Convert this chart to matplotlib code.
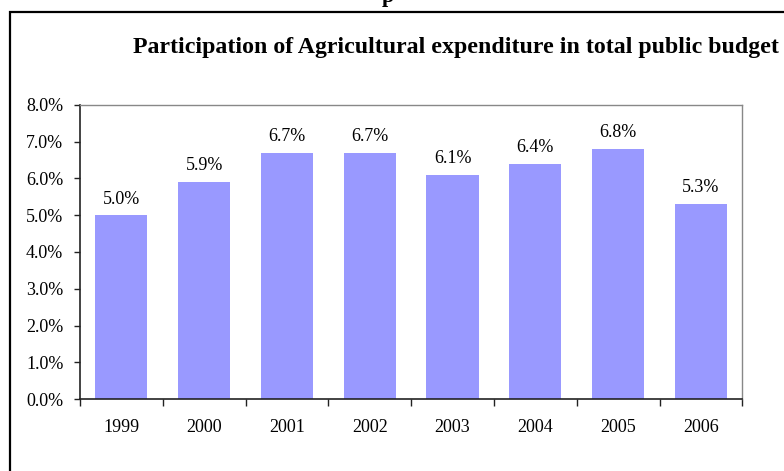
import matplotlib
matplotlib.use("Agg")
import matplotlib.pyplot as plt
from matplotlib.patches import Rectangle
from matplotlib.ticker import FixedLocator, FuncFormatter

years = ["1999", "2000", "2001", "2002", "2003", "2004", "2005", "2006"]
share_pct = [5.0, 5.9, 6.7, 6.7, 6.1, 6.4, 6.8, 5.3]
y_ticks_pct = [0, 1, 2, 3, 4, 5, 6, 7, 8]
title = "Participation of Agricultural expenditure in total public budget"

plt.rcParams["font.family"] = ["Liberation Serif", "DejaVu Serif"]

W, H = 784, 471
fig = plt.figure(figsize=(W / 100, H / 100), dpi=100)

# outer chart frame (runs off the right and bottom edges)
fig.patches.append(Rectangle((9.5 / W, -0.2), 2.0, 1 - 11.5 / H + 0.2,
                             transform=fig.transFigure, fill=False,
                             lw=1.6, ec="black", zorder=0))

# partially visible heading above the frame
fig.text(388 / W, 1 - 2 / H, "p", ha="center", va="baseline",
         fontsize=16, fontweight="bold")

fig.text(455.5 / W, 1 - 48 / H, title, ha="center", va="center",
         fontsize=17.2, fontweight="bold")

left, right, top, bottom = 80, 742.3, 104.7, 399.3
ax = fig.add_axes([left / W, 1 - bottom / H, (right - left) / W, (bottom - top) / H])

x = list(range(len(years)))
ax.bar(x, share_pct, width=0.63, color="#9999FF", zorder=2)

for xi, v in zip(x, share_pct):
    ax.annotate(f"{v:.1f}%", (xi, v), xytext=(0, 5.5), textcoords="offset points",
                ha="center", va="bottom", fontsize=13)

ax.set_xlim(-0.5, len(years) - 0.5)
ax.set_ylim(0, 8)
ax.set_yticks(y_ticks_pct)
ax.yaxis.set_major_formatter(FuncFormatter(lambda v, p: f"{v:.1f}%"))

# category boundaries carry the tick marks, centres carry the labels
ax.xaxis.set_major_locator(FixedLocator([i - 0.5 for i in range(len(years) + 1)]))
ax.xaxis.set_major_formatter(FuncFormatter(lambda v, p: ""))
ax.xaxis.set_minor_locator(FixedLocator(x))
ax.set_xticklabels(years, minor=True)

ax.tick_params(axis="y", which="major", direction="out", length=4, width=1,
               pad=8, labelsize=13, color="#222222")
ax.tick_params(axis="x", which="major", direction="out", length=5, width=1,
               color="#222222")
ax.tick_params(axis="x", which="minor", length=0, pad=14, labelsize=13)

for side in ("left", "bottom"):
    ax.spines[side].set_color("#222222")
    ax.spines[side].set_linewidth(1.2)
for side in ("top", "right"):
    ax.spines[side].set_color("#888888")
    ax.spines[side].set_linewidth(1.0)

fig.savefig("out.png", dpi=100)
